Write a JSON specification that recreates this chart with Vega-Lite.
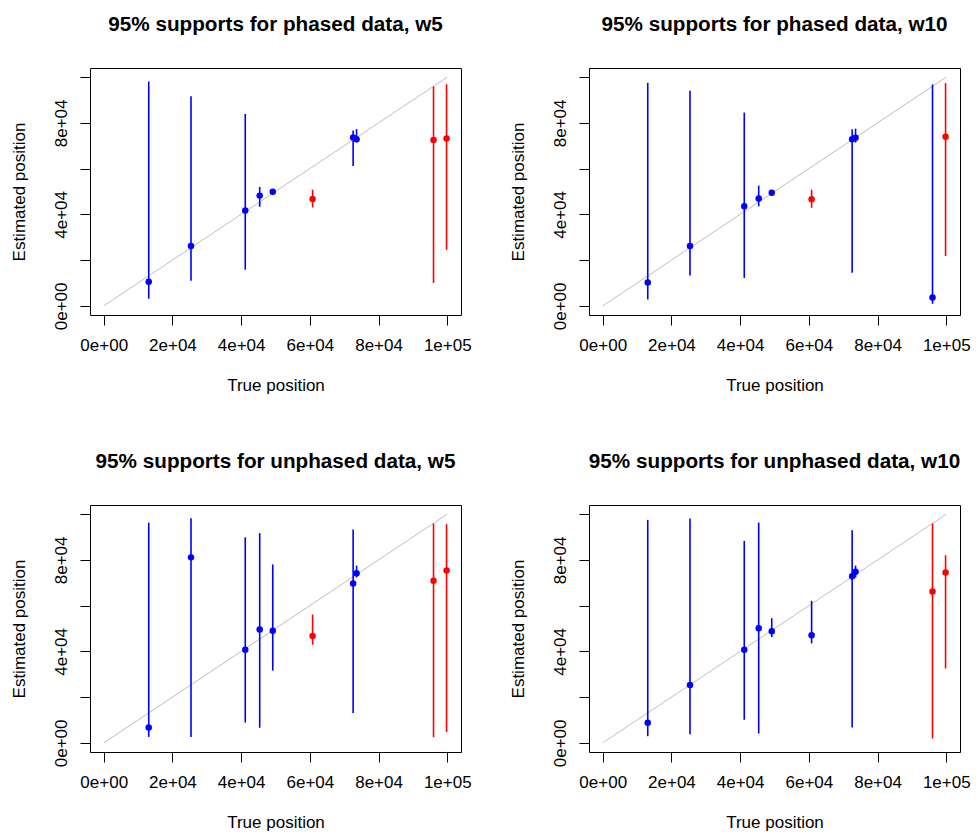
{
  "$schema": "https://vega.github.io/schema/vega-lite/v6.json",
  "padding": {"left": 9, "top": 13, "right": 0, "bottom": 0},
  "background": "white",
  "config": {
    "view": {"stroke": "#000000", "strokeWidth": 1},
    "font": "Liberation Sans",
    "axis": {
      "domain": false, "grid": false, "tickSize": 10, "tickColor": "#000000", "tickWidth": 1,
      "labelFont": "Liberation Sans", "labelFontSize": 17, "labelColor": "#000000",
      "labelFlush": false, "labelOverlap": false,
      "titleFont": "Liberation Sans", "titleFontSize": 17, "titleFontWeight": "normal", "titleColor": "#000000"
    },
    "title": {"font": "Liberation Sans", "fontSize": 20.7, "fontWeight": "bold", "color": "#000000", "anchor": "middle", "frame": "group", "offset": 32}
  },
  "datasets": {
    "ci": [
      {"panel": "pw5", "pos": 13100, "est": 10500, "lo": 3100, "hi": 98100, "col": "blue"},
      {"panel": "pw5", "pos": 25400, "est": 26200, "lo": 11000, "hi": 91700, "col": "blue"},
      {"panel": "pw5", "pos": 41200, "est": 41700, "lo": 15800, "hi": 83900, "col": "blue"},
      {"panel": "pw5", "pos": 45400, "est": 48200, "lo": 43300, "hi": 52000, "col": "blue"},
      {"panel": "pw5", "pos": 49200, "est": 49900, "lo": 49200, "hi": 50700, "col": "blue"},
      {"panel": "pw5", "pos": 60800, "est": 46700, "lo": 43000, "hi": 50800, "col": "red"},
      {"panel": "pw5", "pos": 72600, "est": 73600, "lo": 61200, "hi": 76700, "col": "blue"},
      {"panel": "pw5", "pos": 73600, "est": 72900, "lo": 71400, "hi": 77300, "col": "blue"},
      {"panel": "pw5", "pos": 96000, "est": 72500, "lo": 10000, "hi": 95900, "col": "red"},
      {"panel": "pw5", "pos": 99800, "est": 73200, "lo": 24500, "hi": 96900, "col": "red"},

      {"panel": "pw10", "pos": 13100, "est": 10200, "lo": 2800, "hi": 97500, "col": "blue"},
      {"panel": "pw10", "pos": 25400, "est": 26200, "lo": 13300, "hi": 94100, "col": "blue"},
      {"panel": "pw10", "pos": 41200, "est": 43600, "lo": 12200, "hi": 84500, "col": "blue"},
      {"panel": "pw10", "pos": 45400, "est": 46900, "lo": 43500, "hi": 52600, "col": "blue"},
      {"panel": "pw10", "pos": 49200, "est": 49500, "lo": 48800, "hi": 50300, "col": "blue"},
      {"panel": "pw10", "pos": 60800, "est": 46600, "lo": 42900, "hi": 50800, "col": "red"},
      {"panel": "pw10", "pos": 72600, "est": 72900, "lo": 14500, "hi": 77200, "col": "blue"},
      {"panel": "pw10", "pos": 73600, "est": 73500, "lo": 71400, "hi": 77500, "col": "blue"},
      {"panel": "pw10", "pos": 96000, "est": 3700, "lo": 900, "hi": 96800, "col": "blue"},
      {"panel": "pw10", "pos": 99800, "est": 73900, "lo": 21800, "hi": 97400, "col": "red"},

      {"panel": "uw5", "pos": 13100, "est": 6700, "lo": 2600, "hi": 96300, "col": "blue"},
      {"panel": "uw5", "pos": 25400, "est": 81100, "lo": 2600, "hi": 98200, "col": "blue"},
      {"panel": "uw5", "pos": 41200, "est": 40700, "lo": 8900, "hi": 89900, "col": "blue"},
      {"panel": "uw5", "pos": 45400, "est": 49600, "lo": 6600, "hi": 91700, "col": "blue"},
      {"panel": "uw5", "pos": 49200, "est": 49000, "lo": 31600, "hi": 78000, "col": "blue"},
      {"panel": "uw5", "pos": 60800, "est": 46700, "lo": 42900, "hi": 56100, "col": "red"},
      {"panel": "uw5", "pos": 72600, "est": 69700, "lo": 13000, "hi": 93300, "col": "blue"},
      {"panel": "uw5", "pos": 73600, "est": 74200, "lo": 72300, "hi": 77500, "col": "blue"},
      {"panel": "uw5", "pos": 96000, "est": 70900, "lo": 2500, "hi": 95900, "col": "red"},
      {"panel": "uw5", "pos": 99800, "est": 75400, "lo": 4700, "hi": 95600, "col": "red"},

      {"panel": "uw10", "pos": 13100, "est": 8800, "lo": 2900, "hi": 97500, "col": "blue"},
      {"panel": "uw10", "pos": 25400, "est": 25300, "lo": 3800, "hi": 98100, "col": "blue"},
      {"panel": "uw10", "pos": 41200, "est": 40700, "lo": 10100, "hi": 88300, "col": "blue"},
      {"panel": "uw10", "pos": 45400, "est": 50100, "lo": 4100, "hi": 96300, "col": "blue"},
      {"panel": "uw10", "pos": 49200, "est": 48800, "lo": 46300, "hi": 54500, "col": "blue"},
      {"panel": "uw10", "pos": 60800, "est": 47000, "lo": 43500, "hi": 62100, "col": "blue"},
      {"panel": "uw10", "pos": 72600, "est": 72800, "lo": 6700, "hi": 93000, "col": "blue"},
      {"panel": "uw10", "pos": 73600, "est": 74800, "lo": 72300, "hi": 77500, "col": "blue"},
      {"panel": "uw10", "pos": 96000, "est": 66200, "lo": 1900, "hi": 95900, "col": "red"},
      {"panel": "uw10", "pos": 99800, "est": 74500, "lo": 32500, "hi": 82000, "col": "red"}
    ],
    "diag": [
      {"pos": 0, "est": 0},
      {"pos": 100000, "est": 100000}
    ]
  },
  "columns": 2,
  "bounds": "flush",
  "spacing": {"row": 190, "column": 128},
  "concat": [
    {
      "title": "95% supports for phased data, w5",
      "width": 371, "height": 247,
      "layer": [
        {"data": {"name": "diag"}, "mark": {"type": "line", "color": "#bebebe", "strokeWidth": 1},
         "encoding": {"x": {"field": "pos", "type": "quantitative"}, "y": {"field": "est", "type": "quantitative"}}},
        {"data": {"name": "ci"}, "transform": [{"filter": "datum.panel == 'pw5'"}], "mark": {"type": "rule", "strokeWidth": 1.6},
         "encoding": {"x": {"field": "pos", "type": "quantitative"}, "y": {"field": "lo", "type": "quantitative"}, "y2": {"field": "hi"},
           "color": {"field": "col", "type": "nominal", "scale": {"domain": ["blue", "red"], "range": ["#0000ff", "#ff0000"]}, "legend": null}}},
        {"data": {"name": "ci"}, "transform": [{"filter": "datum.panel == 'pw5'"}], "mark": {"type": "point", "filled": true, "opacity": 1, "size": 42},
         "encoding": {"x": {"field": "pos", "type": "quantitative"}, "y": {"field": "est", "type": "quantitative"},
           "color": {"field": "col", "type": "nominal", "scale": {"domain": ["blue", "red"], "range": ["#0000ff", "#ff0000"]}, "legend": null}}}
      ],
      "encoding": {
        "x": {"field": "pos", "type": "quantitative", "scale": {"domain": [-4000, 104000], "nice": false, "zero": false},
          "axis": {"title": "True position", "values": [0, 20000, 40000, 60000, 80000, 100000], "labelPadding": 12.5, "titlePadding": 24.2,
            "labelExpr": "datum.value == 0 ? '0e+00' : datum.value == 20000 ? '2e+04' : datum.value == 40000 ? '4e+04' : datum.value == 60000 ? '6e+04' : datum.value == 80000 ? '8e+04' : '1e+05'"}},
        "y": {"field": "est", "type": "quantitative", "scale": {"domain": [-4000, 104000], "nice": false, "zero": false},
          "axis": {"title": "Estimated position", "values": [0, 20000, 40000, 60000, 80000, 100000], "labelAngle": -90, "labelAlign": "center", "labelBaseline": "alphabetic", "labelPadding": 13.6, "titlePadding": 24,
            "labelExpr": "datum.value == 0 ? '0e+00' : datum.value == 40000 ? '4e+04' : datum.value == 80000 ? '8e+04' : ''"}}
      }
    },
    {
      "title": "95% supports for phased data, w10",
      "width": 371, "height": 247,
      "layer": [
        {"data": {"name": "diag"}, "mark": {"type": "line", "color": "#bebebe", "strokeWidth": 1},
         "encoding": {"x": {"field": "pos", "type": "quantitative"}, "y": {"field": "est", "type": "quantitative"}}},
        {"data": {"name": "ci"}, "transform": [{"filter": "datum.panel == 'pw10'"}], "mark": {"type": "rule", "strokeWidth": 1.6},
         "encoding": {"x": {"field": "pos", "type": "quantitative"}, "y": {"field": "lo", "type": "quantitative"}, "y2": {"field": "hi"},
           "color": {"field": "col", "type": "nominal", "scale": {"domain": ["blue", "red"], "range": ["#0000ff", "#ff0000"]}, "legend": null}}},
        {"data": {"name": "ci"}, "transform": [{"filter": "datum.panel == 'pw10'"}], "mark": {"type": "point", "filled": true, "opacity": 1, "size": 42},
         "encoding": {"x": {"field": "pos", "type": "quantitative"}, "y": {"field": "est", "type": "quantitative"},
           "color": {"field": "col", "type": "nominal", "scale": {"domain": ["blue", "red"], "range": ["#0000ff", "#ff0000"]}, "legend": null}}}
      ],
      "encoding": {
        "x": {"field": "pos", "type": "quantitative", "scale": {"domain": [-4000, 104000], "nice": false, "zero": false},
          "axis": {"title": "True position", "values": [0, 20000, 40000, 60000, 80000, 100000], "labelPadding": 12.5, "titlePadding": 24.2,
            "labelExpr": "datum.value == 0 ? '0e+00' : datum.value == 20000 ? '2e+04' : datum.value == 40000 ? '4e+04' : datum.value == 60000 ? '6e+04' : datum.value == 80000 ? '8e+04' : '1e+05'"}},
        "y": {"field": "est", "type": "quantitative", "scale": {"domain": [-4000, 104000], "nice": false, "zero": false},
          "axis": {"title": "Estimated position", "values": [0, 20000, 40000, 60000, 80000, 100000], "labelAngle": -90, "labelAlign": "center", "labelBaseline": "alphabetic", "labelPadding": 13.6, "titlePadding": 24,
            "labelExpr": "datum.value == 0 ? '0e+00' : datum.value == 40000 ? '4e+04' : datum.value == 80000 ? '8e+04' : ''"}}
      }
    },
    {
      "title": "95% supports for unphased data, w5",
      "width": 371, "height": 247,
      "layer": [
        {"data": {"name": "diag"}, "mark": {"type": "line", "color": "#bebebe", "strokeWidth": 1},
         "encoding": {"x": {"field": "pos", "type": "quantitative"}, "y": {"field": "est", "type": "quantitative"}}},
        {"data": {"name": "ci"}, "transform": [{"filter": "datum.panel == 'uw5'"}], "mark": {"type": "rule", "strokeWidth": 1.6},
         "encoding": {"x": {"field": "pos", "type": "quantitative"}, "y": {"field": "lo", "type": "quantitative"}, "y2": {"field": "hi"},
           "color": {"field": "col", "type": "nominal", "scale": {"domain": ["blue", "red"], "range": ["#0000ff", "#ff0000"]}, "legend": null}}},
        {"data": {"name": "ci"}, "transform": [{"filter": "datum.panel == 'uw5'"}], "mark": {"type": "point", "filled": true, "opacity": 1, "size": 42},
         "encoding": {"x": {"field": "pos", "type": "quantitative"}, "y": {"field": "est", "type": "quantitative"},
           "color": {"field": "col", "type": "nominal", "scale": {"domain": ["blue", "red"], "range": ["#0000ff", "#ff0000"]}, "legend": null}}}
      ],
      "encoding": {
        "x": {"field": "pos", "type": "quantitative", "scale": {"domain": [-4000, 104000], "nice": false, "zero": false},
          "axis": {"title": "True position", "values": [0, 20000, 40000, 60000, 80000, 100000], "labelPadding": 12.5, "titlePadding": 24.2,
            "labelExpr": "datum.value == 0 ? '0e+00' : datum.value == 20000 ? '2e+04' : datum.value == 40000 ? '4e+04' : datum.value == 60000 ? '6e+04' : datum.value == 80000 ? '8e+04' : '1e+05'"}},
        "y": {"field": "est", "type": "quantitative", "scale": {"domain": [-4000, 104000], "nice": false, "zero": false},
          "axis": {"title": "Estimated position", "values": [0, 20000, 40000, 60000, 80000, 100000], "labelAngle": -90, "labelAlign": "center", "labelBaseline": "alphabetic", "labelPadding": 13.6, "titlePadding": 24,
            "labelExpr": "datum.value == 0 ? '0e+00' : datum.value == 40000 ? '4e+04' : datum.value == 80000 ? '8e+04' : ''"}}
      }
    },
    {
      "title": "95% supports for unphased data, w10",
      "width": 371, "height": 247,
      "layer": [
        {"data": {"name": "diag"}, "mark": {"type": "line", "color": "#bebebe", "strokeWidth": 1},
         "encoding": {"x": {"field": "pos", "type": "quantitative"}, "y": {"field": "est", "type": "quantitative"}}},
        {"data": {"name": "ci"}, "transform": [{"filter": "datum.panel == 'uw10'"}], "mark": {"type": "rule", "strokeWidth": 1.6},
         "encoding": {"x": {"field": "pos", "type": "quantitative"}, "y": {"field": "lo", "type": "quantitative"}, "y2": {"field": "hi"},
           "color": {"field": "col", "type": "nominal", "scale": {"domain": ["blue", "red"], "range": ["#0000ff", "#ff0000"]}, "legend": null}}},
        {"data": {"name": "ci"}, "transform": [{"filter": "datum.panel == 'uw10'"}], "mark": {"type": "point", "filled": true, "opacity": 1, "size": 42},
         "encoding": {"x": {"field": "pos", "type": "quantitative"}, "y": {"field": "est", "type": "quantitative"},
           "color": {"field": "col", "type": "nominal", "scale": {"domain": ["blue", "red"], "range": ["#0000ff", "#ff0000"]}, "legend": null}}}
      ],
      "encoding": {
        "x": {"field": "pos", "type": "quantitative", "scale": {"domain": [-4000, 104000], "nice": false, "zero": false},
          "axis": {"title": "True position", "values": [0, 20000, 40000, 60000, 80000, 100000], "labelPadding": 12.5, "titlePadding": 24.2,
            "labelExpr": "datum.value == 0 ? '0e+00' : datum.value == 20000 ? '2e+04' : datum.value == 40000 ? '4e+04' : datum.value == 60000 ? '6e+04' : datum.value == 80000 ? '8e+04' : '1e+05'"}},
        "y": {"field": "est", "type": "quantitative", "scale": {"domain": [-4000, 104000], "nice": false, "zero": false},
          "axis": {"title": "Estimated position", "values": [0, 20000, 40000, 60000, 80000, 100000], "labelAngle": -90, "labelAlign": "center", "labelBaseline": "alphabetic", "labelPadding": 13.6, "titlePadding": 24,
            "labelExpr": "datum.value == 0 ? '0e+00' : datum.value == 40000 ? '4e+04' : datum.value == 80000 ? '8e+04' : ''"}}
      }
    }
  ]
}
